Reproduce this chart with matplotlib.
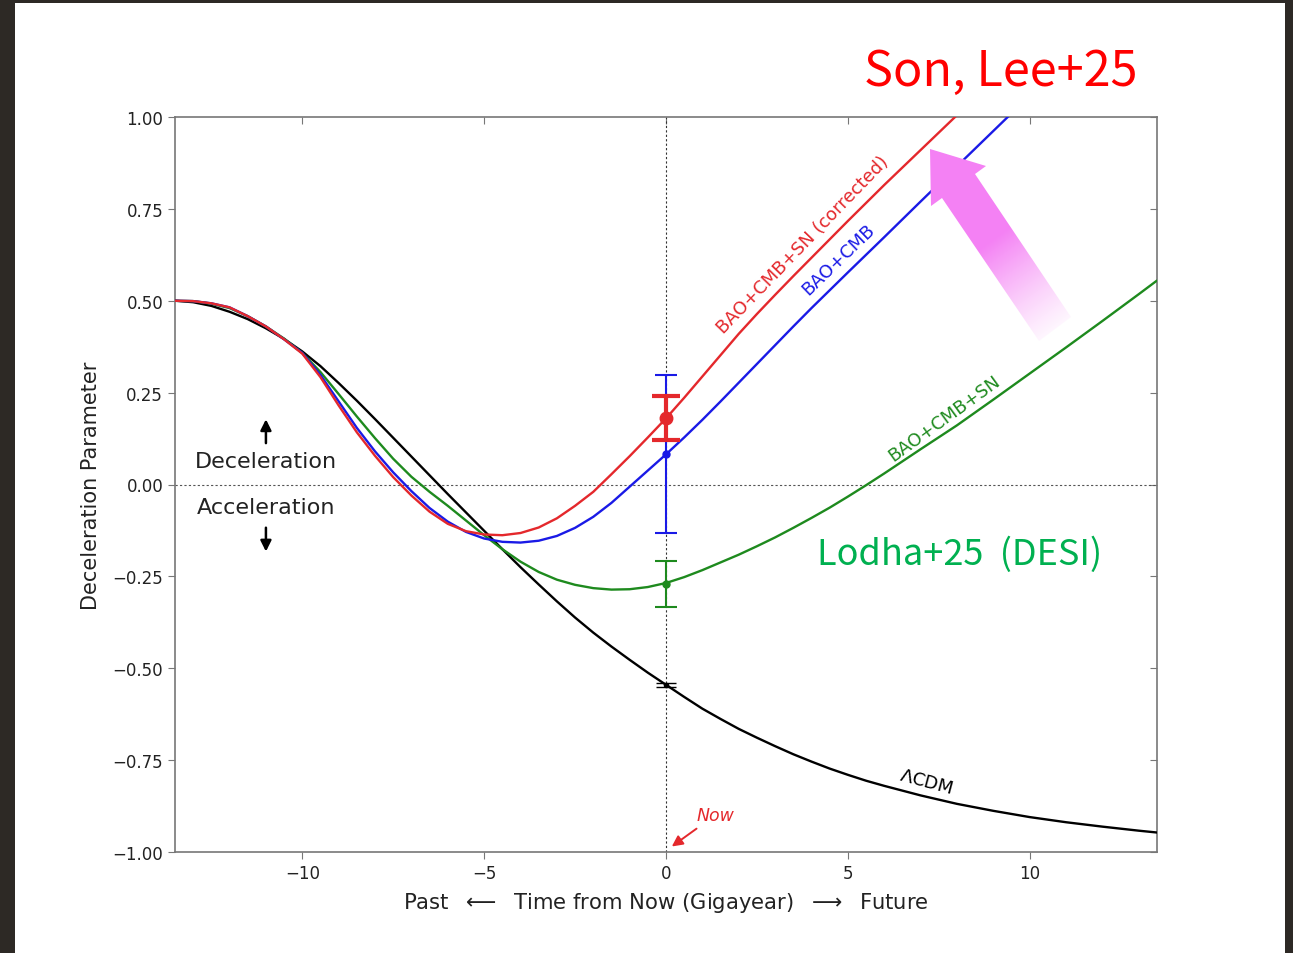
import numpy as np
import matplotlib
matplotlib.use("Agg")
import matplotlib.pyplot as plt
from matplotlib.patches import Polygon, Rectangle
from matplotlib.ticker import FuncFormatter

# deceleration parameter q(t), t in Gyr from now
t_lcdm = [-13.5, -13, -12.5, -12, -11.5, -11, -10.5, -10, -9.5, -9, -8.5, -8, -7.5, -7,
          -6.5, -6, -5.5, -5, -4.5, -4, -3.5, -3, -2.5, -2, -1.5, -1, -0.5, 0,
          0.5, 1, 1.5, 2, 2.5, 3, 3.5, 4, 4.5, 5, 5.5, 6, 7, 8, 9, 10, 11, 12, 13, 13.5]
q_lcdm = [0.500, 0.496, 0.486, 0.470, 0.450, 0.425, 0.396, 0.362, 0.322, 0.276, 0.228, 0.178,
          0.127, 0.076, 0.025, -0.026, -0.076, -0.126, -0.176, -0.225, -0.272, -0.318,
          -0.362, -0.403, -0.441, -0.477, -0.512, -0.545,
          -0.578, -0.610, -0.638, -0.665, -0.689, -0.712, -0.734, -0.754, -0.773, -0.790,
          -0.806, -0.820, -0.846, -0.869, -0.888, -0.905, -0.919, -0.931, -0.942, -0.947]

t_red = [-13.5, -13, -12.5, -12, -11.5, -11, -10.5, -10, -9.5, -9, -8.5, -8, -7.5, -7,
         -6.5, -6, -5.5, -5, -4.5, -4, -3.5, -3, -2.5, -2, -1.5, -1, -0.5, 0,
         0.5, 1, 1.5, 2, 2.5, 3, 3.5, 4, 4.5, 5, 6, 7, 8, 8.5]
q_red = [0.500, 0.499, 0.493, 0.482, 0.458, 0.430, 0.395, 0.356, 0.292, 0.215, 0.142, 0.078,
         0.020, -0.030, -0.074, -0.107, -0.127, -0.136, -0.138, -0.132, -0.117, -0.092,
         -0.058, -0.020, 0.028, 0.077, 0.128, 0.180,
         0.236, 0.294, 0.352, 0.410, 0.464, 0.516, 0.567, 0.617, 0.667, 0.717, 0.815,
         0.910, 1.005, 1.050]

t_blue = [-13.5, -13, -12.5, -12, -11.5, -11, -10.5, -10, -9.5, -9, -8.5, -8, -7.5, -7,
          -6.5, -6, -5.5, -5, -4.5, -4, -3.5, -3, -2.5, -2, -1.5, -1, -0.5, 0,
          0.5, 1, 1.5, 2, 2.5, 3, 3.5, 4, 5, 6, 7, 8, 9, 9.5, 10]
q_blue = [0.500, 0.499, 0.493, 0.482, 0.458, 0.430, 0.395, 0.358, 0.298, 0.226, 0.154, 0.090,
          0.033, -0.018, -0.064, -0.101, -0.129, -0.147, -0.156, -0.158, -0.153, -0.140,
          -0.118, -0.088, -0.050, -0.006, 0.038, 0.082,
          0.128, 0.176, 0.226, 0.277, 0.328, 0.379, 0.430, 0.480, 0.577, 0.673, 0.770,
          0.866, 0.962, 1.010, 1.060]

t_green = [-13.5, -13, -12.5, -12, -11.5, -11, -10.5, -10, -9.5, -9, -8.5, -8, -7.5, -7,
           -6.5, -6, -5.5, -5, -4.5, -4, -3.5, -3, -2.5, -2, -1.5, -1, -0.5, 0,
           0.5, 1, 1.5, 2, 2.5, 3, 3.5, 4, 4.5, 5, 5.5, 6, 6.5, 7, 8, 9, 10, 11, 12, 13, 13.5]
q_green = [0.500, 0.499, 0.492, 0.480, 0.458, 0.430, 0.397, 0.358, 0.306, 0.246, 0.185,
           0.126, 0.070, 0.021, -0.020, -0.058, -0.098, -0.138, -0.176, -0.210, -0.238,
           -0.259, -0.273, -0.282, -0.286, -0.285, -0.279, -0.268,
           -0.252, -0.233, -0.212, -0.191, -0.168, -0.144, -0.118, -0.091, -0.063, -0.033,
           -0.002, 0.030, 0.063, 0.096, 0.161, 0.231, 0.302, 0.373, 0.445, 0.518, 0.555]

# present-day values with 1-sigma errors
now_q = {"red": 0.18, "blue": 0.082, "green": -0.27, "black": -0.545}
now_err = {"red": 0.06, "blue": 0.215, "green": 0.063, "black": 0.006}

C_RED = "#e4282c"
C_BLUE = "#1a1ae6"
C_GREEN = "#1e8a1e"

fig = plt.figure(figsize=(12.93, 9.54), dpi=100)
fig.patch.set_facecolor("#2d2925")

# slide background
bg = fig.add_axes([0, 0, 1, 1], zorder=0)
bg.set_xlim(0, 1293)
bg.set_ylim(954, 0)
bg.axis("off")
bg.add_patch(Rectangle((15, 4), 1270, 960, facecolor="white", edgecolor="none"))

ax = fig.add_axes([175 / 1293, 101 / 954, 982 / 1293, 735 / 954], zorder=1)
ax.set_facecolor("white")

ax.axhline(0, color="#555555", lw=0.8, ls=(0, (2, 2)), zorder=1)
ax.axvline(0, color="#333333", lw=0.8, ls=(0, (2, 2)), zorder=1)

kw = dict(lw=1.7, solid_joinstyle="round", solid_capstyle="round")
ax.plot(t_lcdm, q_lcdm, color="black", zorder=3, **kw)
ax.plot(t_green, q_green, color=C_GREEN, zorder=3, **kw)
ax.plot(t_blue, q_blue, color=C_BLUE, zorder=3, **kw)
ax.plot(t_red, q_red, color=C_RED, zorder=4, **kw)

ax.errorbar(0, now_q["black"], yerr=now_err["black"], fmt="o", color="black",
            ms=3, capsize=7, lw=1.5, zorder=5)
ax.errorbar(0, now_q["green"], yerr=now_err["green"], fmt="o", color=C_GREEN,
            ms=5, capsize=8, lw=1.5, capthick=1.5, zorder=5)
ax.errorbar(0, now_q["blue"], yerr=now_err["blue"], fmt="o", color=C_BLUE,
            ms=5, capsize=8, lw=1.5, capthick=1.5, zorder=5)
ax.errorbar(0, now_q["red"], yerr=now_err["red"], fmt="o", color=C_RED,
            ms=9, capsize=10, lw=3, capthick=3, zorder=6)

ax.set_xlim(-13.5, 13.5)
ax.set_ylim(-1.0, 1.0)
ax.set_xticks([-10, -5, 0, 5, 10])
ax.set_yticks(np.arange(-1.0, 1.01, 0.25))
ax.yaxis.set_major_formatter(FuncFormatter(lambda v, p: f"{v:.2f}".replace("-", "\u2212")))
ax.tick_params(labelsize=12, length=5, color="#777777", labelcolor="#222222")
for s in ax.spines.values():
    s.set_color("#777777")
    s.set_linewidth(1.2)

top = ax.secondary_xaxis("top")
top.set_xticks([-10, -5, 0, 5, 10])
top.tick_params(direction="in", labeltop=False, length=5, color="#777777")
top.spines["top"].set_visible(False)
right = ax.secondary_yaxis("right")
right.set_yticks(np.arange(-1.0, 1.01, 0.25))
right.tick_params(direction="in", labelright=False, length=5, color="#777777")
right.spines["right"].set_visible(False)

ax.set_xlabel(r"Past  $\longleftarrow$  Time from Now (Gigayear)  $\longrightarrow$  Future",
              fontsize=15.2, color="#222222", labelpad=6)
ax.set_ylabel("Deceleration Parameter", fontsize=15, color="#222222", labelpad=8)

# curve labels
ax.text(3.76, 0.653, "BAO+CMB+SN (corrected)", color=C_RED, fontsize=13, rotation=46,
        rotation_mode="anchor", ha="center", va="center")
ax.text(4.73, 0.615, "BAO+CMB", color=C_BLUE, fontsize=13, rotation=44,
        rotation_mode="anchor", ha="center", va="center")
ax.text(7.64, 0.182, "BAO+CMB+SN", color=C_GREEN, fontsize=13, rotation=36,
        rotation_mode="anchor", ha="center", va="center")
ax.text(7.14, -0.808, r"$\Lambda$CDM", color="black", fontsize=13, rotation=-15,
        rotation_mode="anchor", ha="center", va="center")

# regime labels
ax.text(-11.0, 0.063, "Deceleration", fontsize=16, ha="center", va="center", color="#222222")
ax.text(-11.0, -0.06, "Acceleration", fontsize=16, ha="center", va="center", color="#222222")
ax.annotate("", xy=(-11.0, 0.185), xytext=(-11.0, 0.105),
            arrowprops=dict(arrowstyle="-|>", color="black", lw=1.8, mutation_scale=16))
ax.annotate("", xy=(-11.0, -0.19), xytext=(-11.0, -0.11),
            arrowprops=dict(arrowstyle="-|>", color="black", lw=1.8, mutation_scale=16))

ax.annotate("Now", xy=(0.16, -0.985), xytext=(1.35, -0.900), color=C_RED,
            fontsize=12.5, style="italic", ha="center", va="center",
            arrowprops=dict(arrowstyle="-|>", color=C_RED, lw=1.4, mutation_scale=16,
                            shrinkA=2, shrinkB=0))

# overlay: headline annotations and the shift arrow
fg = fig.add_axes([0, 0, 1, 1], zorder=5)
fg.set_xlim(0, 1293)
fg.set_ylim(954, 0)
fg.axis("off")
fg.patch.set_alpha(0)

fg.text(1001, 72, "Son, Lee+25", color="#ff0000", fontsize=35,
        family=["Noto Sans CJK KR", "DejaVu Sans"], ha="center", va="center")
fg.text(960, 555, "Lodha+25  (DESI)", color="#00b050", fontsize=26,
        family=["Noto Sans CJK KR", "DejaVu Sans"], ha="center", va="center")

arrow_pts = [(930, 150), (986, 167), (975, 175), (1071, 318), (1039, 342), (942, 199), (931, 207)]
arrow = Polygon(arrow_pts, closed=True, facecolor="none", edgecolor="none")
fg.add_patch(arrow)
x0, x1, y0, y1 = 920, 1080, 140, 350
xx, yy = np.meshgrid(np.arange(x0, x1), np.arange(y0, y1))
d = np.array([130.0, 180.0]) / np.hypot(130, 180)
proj = (xx - 930) * d[0] + (yy - 150) * d[1]
alpha = np.clip(1 - (proj - 110) / 125, 0, 1) ** 1.3
rgba = np.zeros(xx.shape + (4,))
rgba[..., 0] = 244 / 255
rgba[..., 1] = 130 / 255
rgba[..., 2] = 244 / 255
rgba[..., 3] = alpha
img = fg.imshow(rgba, extent=(x0, x1, y1, y0), origin="upper", interpolation="bilinear")
img.set_clip_path(arrow)
fg.set_xlim(0, 1293)
fg.set_ylim(954, 0)

fig.savefig("out.png", dpi=100, facecolor=fig.get_facecolor())
